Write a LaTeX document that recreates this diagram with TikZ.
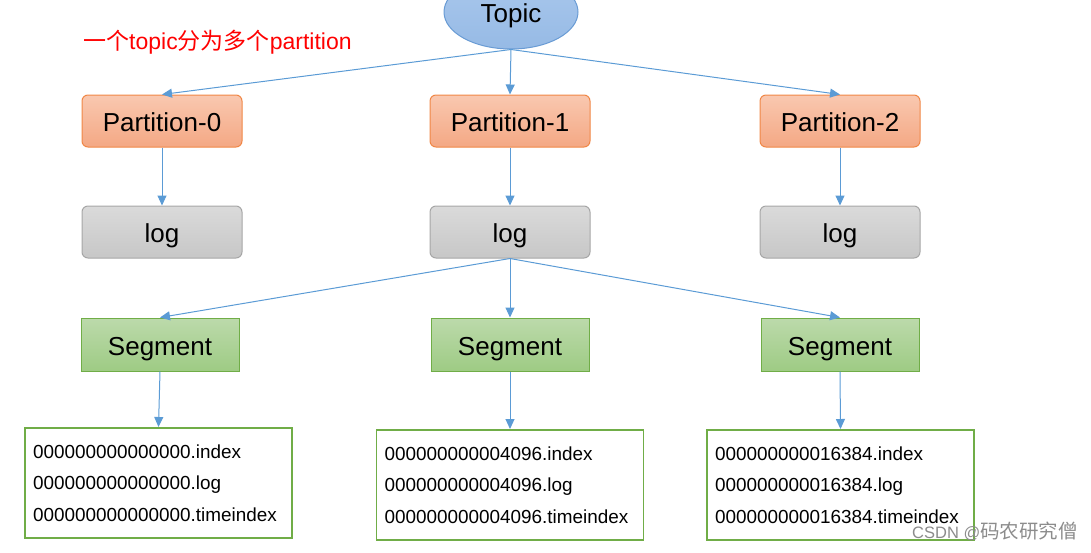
\documentclass[tikz,border=0pt]{standalone}
\usepackage{fontspec}
\setmainfont{Liberation Sans}
\newfontfamily\cjk{Noto Sans CJK SC}
\usetikzlibrary{
arrows.meta,
shapes.geometric,
positioning
}
\definecolor{arrowblue}{RGB}{91,155,213}
\definecolor{topictop}{RGB}{170,200,237}
\definecolor{topicbot}{RGB}{150,186,229}
\definecolor{topicdraw}{RGB}{105,155,212}
\definecolor{parttop}{RGB}{249,200,176}
\definecolor{partbot}{RGB}{244,168,132}
\definecolor{partdraw}{RGB}{240,135,70}
\definecolor{logtop}{RGB}{218,218,218}
\definecolor{logbot}{RGB}{199,199,199}
\definecolor{logdraw}{RGB}{166,166,166}
\definecolor{segtop}{RGB}{188,218,171}
\definecolor{segbot}{RGB}{158,203,132}
\definecolor{segdraw}{RGB}{112,173,71}
\definecolor{marktext}{RGB}{140,140,140}

\begin{document}
\begin{tikzpicture}[
      x=1pt,y=-1pt,
      arrow/.style={
        -{Triangle[width=9pt,length=10pt]},
        line width=1pt,
        draw=arrowblue
      },
      bigtext/.style={
        font=\fontsize{26}{30}\selectfont,
        text height=22pt,
        text depth=0.4pt
      },
      topicnode/.style={
        bigtext,ellipse,draw=topicdraw,line width=1pt,
        top color=topictop,bottom color=topicbot,
        minimum width=134pt,minimum height=74pt,inner sep=0pt
      },
      partbox/.style={
        bigtext,draw=partdraw,line width=1pt,rounded corners=6pt,
        top color=parttop,bottom color=partbot,
        minimum width=160pt,minimum height=52pt
      },
      logbox/.style={
        bigtext,draw=logdraw,line width=1pt,rounded corners=6pt,
        top color=logtop,bottom color=logbot,
        minimum width=160pt,minimum height=52pt
      },
      segbox/.style={
        bigtext,draw=segdraw,line width=1pt,
        top color=segtop,bottom color=segbot,
        minimum width=158pt,minimum height=53pt
      },
      filebox/.style={
        draw=segdraw,line width=1.6pt,fill=white,
        align=left,text width=251pt,inner xsep=8pt,inner ysep=0pt,
        minimum height=110pt,
        font=\fontsize{18.9}{31.5}\selectfont
      }
    ]
    \useasboundingbox (0,0) rectangle (1091,552);
    \clip (0,0) rectangle (1091,552);

    \node[topicnode] (topic) at (511,12) {Topic};

    \node[anchor=west,inner sep=0pt,text=red,font=\fontsize{23}{26}\selectfont] (note) at (83,42)
      {{\cjk 一个}topic{\cjk 分为多个}partition};

    \node[partbox] (p0) at (162,121) {Partition-0};
    \node[partbox] (p1) at (510,121) {Partition-1};
    \node[partbox] (p2) at (840,121) {Partition-2};

    \node[logbox,below=58pt of p0] (l0) {log};
    \node[logbox,below=58pt of p1] (l1) {log};
    \node[logbox,below=58pt of p2] (l2) {log};

    \node[segbox] (s0) at (160,344.5) {Segment};
    \node[segbox] (s1) at (510,344.5) {Segment};
    \node[segbox] (s2) at (840,344.5) {Segment};

    \node[filebox,anchor=north] (f0) at (158.5,427) {%
      000000000000000.index\\
      000000000000000.log\\
      000000000000000.timeindex};
    \node[filebox,anchor=north] (f1) at (510,429) {%
      000000000004096.index\\
      000000000004096.log\\
      000000000004096.timeindex};
    \node[filebox,anchor=north] (f2) at (840.5,429) {%
      000000000016384.index\\
      000000000016384.log\\
      000000000016384.timeindex};

    % topic -> partitions
    \draw[arrow] (topic.south) -- (p0.north);
    \draw[arrow] (topic.south) -- (p1.north);
    \draw[arrow] (topic.south) -- (p2.north);

    % partition -> log
    \foreach \i in {0,1,2} {
      \draw[arrow] (p\i) -- (l\i);
    }

    % log -> segments
    \draw[arrow] (l1.south) -- (s0.north);
    \draw[arrow] (l1.south) -- (s1.north);
    \draw[arrow] (l1.south) -- (s2.north);

    % segment -> files
    \foreach \i in {0,1,2} {
      \draw[arrow] (s\i.south) -- (f\i.north);
    }

    \node[anchor=east,inner sep=0pt,text=marktext,font=\fontsize{16.5}{20}\selectfont] (mark) at (1078,531)
      {CSDN @{\fontsize{19.5}{20}\selectfont\cjk 码农研究僧}};

  \end{tikzpicture}
\end{document}
